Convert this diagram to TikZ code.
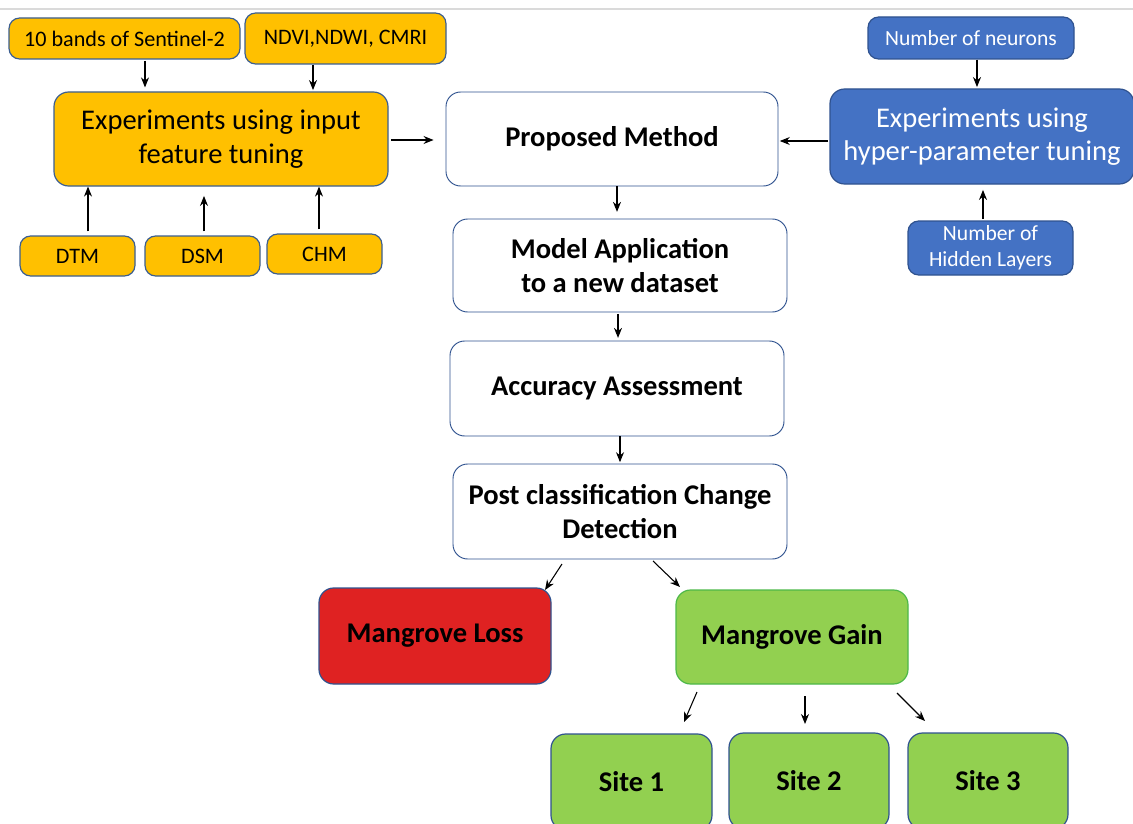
\documentclass[tikz,border=0pt]{standalone}
\usepackage{fontspec}
\setmainfont{Carlito}
\usetikzlibrary{arrows.meta,calc}
\definecolor{orng}{HTML}{FFC000}
\definecolor{bord}{HTML}{3B5E91}
\definecolor{blu}{HTML}{4472C4}
\definecolor{blubord}{HTML}{2F528F}
\definecolor{redf}{HTML}{DF2222}
\definecolor{grn}{HTML}{92D050}
\definecolor{grnbord}{HTML}{4DB848}
\definecolor{topline}{HTML}{DADADA}
\begin{document}
\begin{tikzpicture}[x=0.75pt,y=-0.75pt,
  sz/.style 2 args={minimum width=#1*0.75pt, minimum height=#2*0.75pt},
  box/.style={rounded corners=8pt, draw=bord, line width=0.9pt, inner sep=0pt, align=center},
  obox/.style={box, fill=orng, font=\fontsize{16.6}{19.5}\selectfont},
  obig/.style={box, fill=orng, rounded corners=11pt, font=\fontsize{21.4}{25}\selectfont},
  bbox/.style={box, fill=blu, draw=blubord, text=white, font=\fontsize{16.2}{19.5}\selectfont},
  bbig/.style={box, fill=blu, draw=blubord, text=white, rounded corners=11pt, font=\fontsize{21.4}{25}\selectfont},
  wbox/.style={box, fill=white, draw=blubord, line width=0.7pt, rounded corners=11pt, font=\bfseries\fontsize{21.4}{26}\selectfont},
  rbox/.style={box, fill=redf, draw=blubord, rounded corners=11pt, font=\bfseries\fontsize{21.4}{26}\selectfont},
  gbox/.style={box, fill=grn, draw=grnbord, rounded corners=11pt, font=\bfseries\fontsize{21.4}{26}\selectfont},
  sbox/.style={box, fill=grn, draw=blubord, rounded corners=11pt, font=\bfseries\fontsize{21.4}{26}\selectfont},
  arr/.style={-{Stealth[length=7.5pt,width=6pt]}, line width=0.8pt}
]
\clip (0,0) rectangle (1133,824);
\useasboundingbox (0,0) rectangle (1133,824);
\draw[topline, line width=1.2pt] (0,9) -- (1133,9);

% orange group
\node[obox, sz={231}{41}] (s10) at (124.5,38.5) {10 bands of Sentinel-2};
\node[obox, sz={201}{51}] (ndvi) at (345.5,38.5) {NDVI,NDWI, CMRI};
\node[obig, sz={334}{94}] (expin) at (221,139) {Experiments using input\\feature tuning};
\node[obox, sz={115}{40}] (dtm) at (77.5,256) {DTM};
\node[obox, sz={115}{40}] (dsm) at (202.5,256) {DSM};
\node[obox, sz={115}{40}] (chm) at (324.5,254) {CHM};

% blue group
\node[bbox, sz={206}{42}] (neur) at (971,38) {Number of neurons};
\node[bbig, sz={304}{95}] (hyper) at (982,136.5) {Experiments using\\hyper-parameter tuning};
\node[bbox, sz={165}{54}] (hid) at (990.5,248) {Number of\\Hidden Layers};

% centre column
\node[wbox, sz={332}{94}] (prop) at (612,139) {Proposed Method};
\node[wbox, sz={334}{93}] (model) at (620,265.5) {Model Application\\to a new dataset};
\node[wbox, sz={334}{95}] (acc) at (617,388.5) {Accuracy Assessment};
\node[wbox, sz={334}{95}] (post) at (620,511.5) {Post classification Change\\Detection};

% outcomes
\node[rbox, sz={232}{96}] (loss) at (435,636) {Mangrove Loss};
\node[gbox, sz={232}{94}] (gain) at (792,637) {Mangrove Gain};
\node[sbox, sz={161}{96}] (site1) at (631.5,782) {Site 1};
\node[sbox, sz={160}{96}] (site2) at (809,781) {Site 2};
\node[sbox, sz={160}{96}] (site3) at (988,781) {Site 3};

% helper x positions
\coordinate (x145) at (145,0);
\coordinate (x313) at (313,0);
\coordinate (x88) at (88,0);
\coordinate (x204) at (204,0);
\coordinate (x319) at (319,0);
\coordinate (x977) at (977,0);
\coordinate (x983) at (983,0);
\coordinate (x617) at (617,0);
\coordinate (x618) at (618,0);
\coordinate (x620) at (620,0);
\coordinate (y140) at (0,140);
\coordinate (y141) at (0,141);

% arrows
\draw[arr, shorten <=1pt, shorten >=3pt] (s10.south -| x145) -- (expin.north -| x145);
\draw[arr, shorten >=1pt] (ndvi.south -| x313) -- (expin.north -| x313);
\draw[arr, shorten <=3pt] (dtm.north -| x88) -- (expin.south -| x88);
\draw[arr, shorten <=3pt, shorten >=7pt] (dsm.north -| x204) -- (expin.south -| x204);
\draw[arr, shorten <=3pt] (chm.north -| x319) -- (expin.south -| x319);
\draw[arr, shorten <=2pt, shorten >=9pt] (expin.east |- y140) -- (prop.west |- y140);
\draw[arr, shorten <=1pt, shorten >=1pt] (hyper.west |- y141) -- (prop.east |- y141);
\draw[arr, shorten >=1pt] (neur.south -| x977) -- (hyper.north -| x977);
\draw[arr, shorten <=1pt, shorten >=4pt] (hid.north -| x983) -- (hyper.south -| x983);
\draw[arr, shorten >=5pt] (prop.south -| x617) -- (model.north -| x617);
\draw[arr, shorten <=1pt, shorten >=2pt] (model.south -| x618) -- (acc.north -| x618);
\draw[arr, shorten >=1pt] (acc.south -| x620) -- (post.north -| x620);

\coordinate (pl) at (562,564);
\coordinate (pg) at (653,561);
\coordinate (g1) at (697,692);
\coordinate (g2) at (805,696);
\coordinate (g3) at (897,693);
\draw[arr] (pl) -- (545,590) coordinate (lt);
\draw[arr] (pg) -- (680,587) coordinate (gt);
\draw[arr] (g1) -- (684,722);
\draw[arr] (g2) -- (805,724);
\draw[arr] (g3) -- (925,721);
\end{tikzpicture}
\end{document}
